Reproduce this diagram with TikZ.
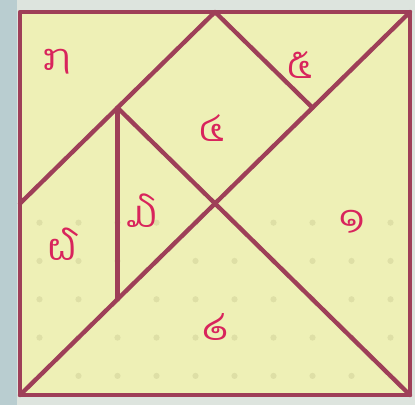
\documentclass[tikz,border=0pt]{standalone}
\usepackage{fontspec}
\newfontfamily\laofont[Script=Lao]{Dhyana}
\usetikzlibrary{calc}
\definecolor{tpaper}{HTML}{EEF0B6}
\definecolor{tdot}{HTML}{DEDFA6}
\definecolor{tedge}{HTML}{9E3F58}
\definecolor{tnum}{HTML}{D8245C}
\definecolor{tback}{HTML}{DDE4DE}
\definecolor{tside}{HTML}{B9CDD0}
\tikzset{
 cut/.style={tedge, line width=3.1pt, line cap=round, line join=round},
 num/.style={tnum, font=\laofont\fontsize{26}{26}\selectfont}
}
\begin{document}
\begin{tikzpicture}[x=2.4375cm, y=2.394cm]
 \useasboundingbox (-0.205,-0.104) rectangle (4.051,4.125);
 \fill[tback] (-0.205,-0.104) rectangle (4.051,4.125);
 \fill[tside] (-0.205,-0.104) rectangle (-0.03,4.125);
 \fill[tpaper] (0,0) rectangle (4,4);
 % print dots in the lower part
 \foreach \i in {0,...,9} \foreach \j in {0,...,4}
  \fill[tdot] (0.2+0.4*\i,0.2+0.4*\j) circle (2.2pt);
 % vertices
 \coordinate (bl) at (0,0);
 \coordinate (br) at (4,0);
 \coordinate (tr) at (4,4);
 \coordinate (tl) at (0,4);
 \coordinate (lm) at (0,2);
 \coordinate (tm) at (2,4);
 \coordinate (c) at (2,2);
 \coordinate (q) at (1,3);
 \coordinate (p) at (1,1);
 \coordinate (s) at (3,3);
 % pieces
 \draw[cut] (bl) -- (br) -- (tr) -- (tl) -- cycle;
 \draw[cut] (bl) -- (tr);
 \draw[cut] (q) -- (br);
 \draw[cut] (lm) -- (tm) -- (s);
 \draw[cut] (q) -- (p);
 % numbers
 \node[num] (n1) at (3.41,1.81) {໑};
 \node[num] (n2) at (2.00,0.71) {໒};
 \node[num] (n3) at (1.25,1.93) {໓};
 \node[num] (n4) at (1.97,2.79) {໔};
 \node[num] (n5) at (2.87,3.45) {໕};
 \node[num] (n6) at (0.43,1.57) {໖};
 \node[num] (n7) at (0.38,3.48) {໗};
\end{tikzpicture}
\end{document}
